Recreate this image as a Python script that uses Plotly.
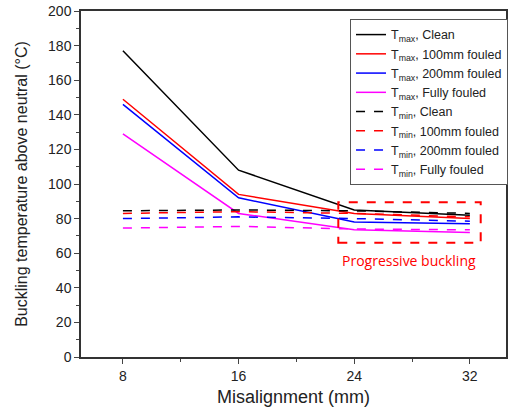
import plotly.graph_objects as go

misalignment = [8, 16, 24, 32]
tmax_clean = [177, 108, 85, 82]
tmax_100 = [149, 94, 83, 80]
tmax_200 = [146, 92, 78, 77]
tmax_full = [129, 83, 73.5, 72]
tmin_clean = [84.5, 85, 84.5, 83]
tmin_100 = [83, 84, 83, 81]
tmin_200 = [80, 81, 80, 78.5]
tmin_full = [74.5, 75.5, 74, 73.5]

series = [
    ("T<sub>max</sub>, Clean", tmax_clean, "#000000", "solid"),
    ("T<sub>max</sub>, 100mm fouled", tmax_100, "#ff0000", "solid"),
    ("T<sub>max</sub>, 200mm fouled", tmax_200, "#0000ff", "solid"),
    ("T<sub>max</sub>, Fully fouled", tmax_full, "#ff00ff", "solid"),
    ("T<sub>min</sub>, Clean", tmin_clean, "#000000", "dash"),
    ("T<sub>min</sub>, 100mm fouled", tmin_100, "#ff0000", "dash"),
    ("T<sub>min</sub>, 200mm fouled", tmin_200, "#0000ff", "dash"),
    ("T<sub>min</sub>, Fully fouled", tmin_full, "#ff00ff", "dash"),
]

fig = go.Figure()
for name, vals, col, dash in series:
    fig.add_trace(go.Scatter(x=misalignment, y=vals, mode="lines", name=name,
                             line=dict(color=col, width=1.5, dash=dash)))

fig.add_shape(type="rect", x0=22.9, x1=32.75, y0=66, y1=89.5, xref="x", yref="y",
              line=dict(color="#ff0000", width=2, dash="dash"))
fig.add_annotation(x=27.8, y=55.5, text="Progressive buckling", showarrow=False,
                   font=dict(color="#ff0000", size=14, family="Open Sans"))

fig.update_layout(
    width=512, height=417,
    margin=dict(l=81, r=4, t=11, b=60),
    paper_bgcolor="white", plot_bgcolor="white",
    font=dict(family="Liberation Sans, Arial", color="#222"),
    showlegend=True,
    legend=dict(x=0.633, y=0.977, xanchor="left", yanchor="top",
                bgcolor="white", bordercolor="#555", borderwidth=1,
                font=dict(size=12.5), tracegroupgap=0, itemwidth=30),
    xaxis=dict(range=[5.1, 34.5], tickvals=misalignment, ticks="outside", ticklen=5,
               showline=True, linecolor="#333", linewidth=1.5, mirror=True,
               showgrid=False, zeroline=False, tickfont=dict(size=14), automargin=False,
               minor=dict(tickvals=[12, 20, 28], ticks="outside", ticklen=3),
               title=dict(text="Misalignment (mm)", font=dict(size=18), standoff=8)),
    yaxis=dict(range=[0, 200], dtick=20, ticks="outside", ticklen=5,
               showline=True, linecolor="#333", linewidth=1.5, mirror=True,
               showgrid=False, zeroline=False, tickfont=dict(size=14), automargin=False,
               minor=dict(dtick=10, ticks="outside", ticklen=3),
               title=dict(text="Buckling temperature above neutral (°C)", font=dict(size=16), standoff=16)),
)

fig.write_html("out.html")
